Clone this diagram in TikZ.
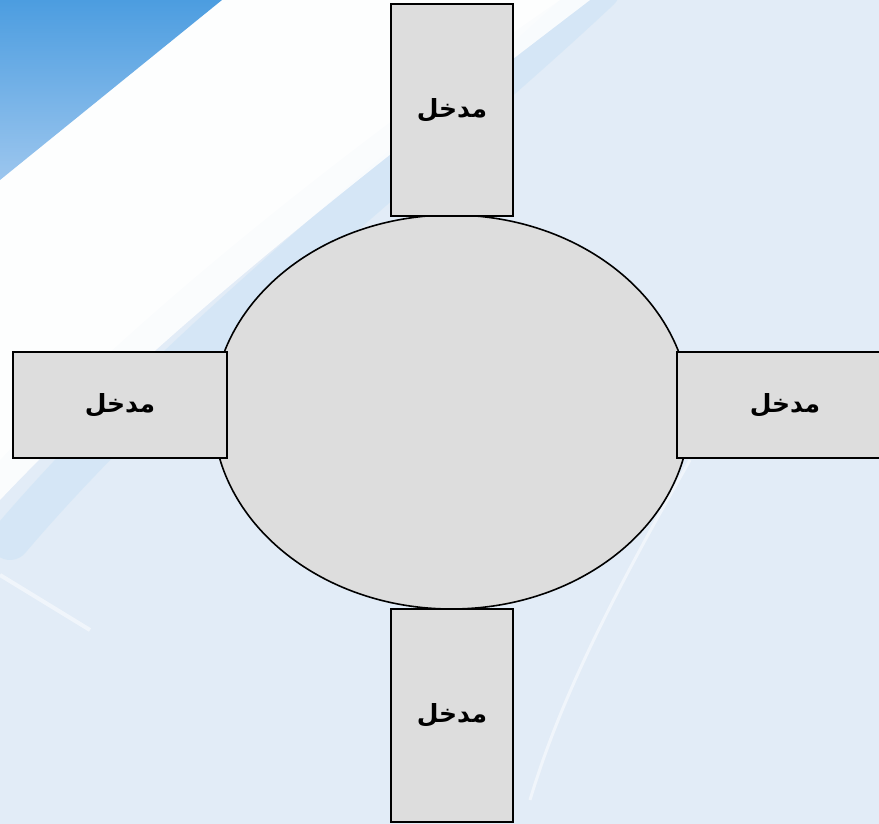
\documentclass[tikz,border=0pt]{standalone}
\usepackage{fontspec}
\usetikzlibrary{shapes.geometric}
\TeXXeTstate=1
\newfontfamily\arabicfont[Script=Arabic]{DejaVu Sans}
\definecolor{bgblue}{HTML}{E2ECF7}
\definecolor{boxgray}{HTML}{DDDDDD}
\definecolor{cornerblue}{HTML}{4C9DE0}
\definecolor{cornerblue2}{HTML}{9CC6EE}
\definecolor{streak}{HTML}{C6E0F5}
\tikzset{
  entrybox/.style={draw=black, line width=2pt, fill=boxgray, inner sep=0pt, font=\arabicfont\bfseries\fontsize{25}{29}\selectfont},
  hub/.style={ellipse, draw=black, line width=1.6pt, fill=boxgray, inner sep=0pt}
}
\begin{document}
\begin{tikzpicture}[x=1pt,y=-1pt]
\useasboundingbox (0,0) rectangle (879,824);
% background
\fill[bgblue] (0,0) rectangle (879,824);
\draw[streak, line width=40pt, opacity=0.45, line cap=round] (600,-10) .. controls (430,150) and (180,340) .. (10,540);
\fill[white, opacity=0.85] (217,0) -- (590,0) .. controls (420,130) and (170,320) .. (0,500) -- (0,177) -- cycle;
\fill[white, opacity=0.7] (217,0) -- (560,0) .. controls (400,110) and (160,290) .. (0,460) -- (0,177) -- cycle;
\shade[top color=cornerblue, bottom color=cornerblue2] (0,0) -- (222,0) -- (0,180) -- cycle;
\draw[white, line width=3pt, opacity=0.5] (690,460) .. controls (610,600) and (560,700) .. (530,800);
\draw[white, line width=4pt, opacity=0.5] (0,575) -- (90,630);
% diagram
\node[hub] (c) at (451.5,412) [minimum width=477pt, minimum height=394pt] {};
\node[entrybox, minimum width=122pt, minimum height=212pt] (top) at (452,110) {\beginR مدخل\endR};
\node[entrybox, minimum width=214pt, minimum height=106pt] (left) at (120,405) {\beginR مدخل\endR};
\node[entrybox, minimum width=216pt, minimum height=106pt] (right) at (785,405) {\beginR مدخل\endR};
\node[entrybox, minimum width=122pt, minimum height=213pt] (bottom) at (452,715.5) {\beginR مدخل\endR};
\end{tikzpicture}
\end{document}
